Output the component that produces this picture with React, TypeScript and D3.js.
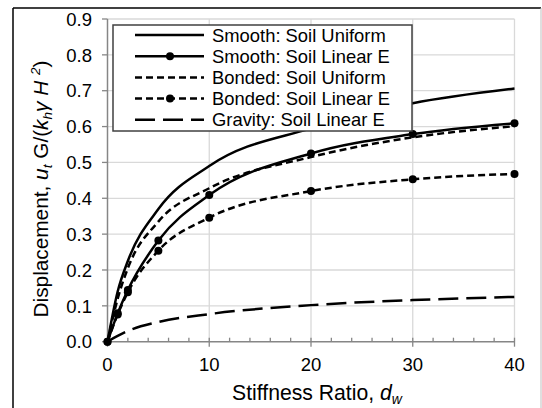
import React from "react";
import * as d3 from "d3";

const stiffness = [0, 1, 2, 5, 10, 20, 30, 40];
const smoothUniform = [0, 0.14, 0.225, 0.37, 0.49, 0.595, 0.665, 0.706];
const smoothLinearE = [0, 0.079, 0.144, 0.282, 0.409, 0.525, 0.579, 0.609];
const bondedUniform = [0, 0.12, 0.205, 0.335, 0.428, 0.515, 0.57, 0.601];
const bondedLinearE = [0, 0.076, 0.138, 0.254, 0.346, 0.42, 0.453, 0.468];
const gravityLinearE = [0, 0.016, 0.03, 0.055, 0.077, 0.102, 0.116, 0.125];
const xTicks = [0, 10, 20, 30, 40];
const xMinorTicks = [2, 4, 6, 8, 12, 14, 16, 18, 22, 24, 26, 28, 32, 34, 36, 38];
const yTicks = [0, 0.1, 0.2, 0.3, 0.4, 0.5, 0.6, 0.7, 0.8, 0.9];

const seriesNames = [
  "Smooth: Soil Uniform",
  "Smooth: Soil Linear E",
  "Bonded: Soil Uniform",
  "Bonded: Soil Linear E",
  "Gravity: Soil Linear E",
];

const FONT = "'Liberation Sans', Arial, sans-serif";

export default function App() {
  const x = d3.scaleLinear().domain([0, 40]).range([107.5, 514.5]);
  const y = d3.scaleLinear().domain([0, 0.9]).range([341.7, 19]);

  const series = [
    { name: seriesNames[0], values: smoothUniform, dash: "none", markers: false },
    { name: seriesNames[1], values: smoothLinearE, dash: "none", markers: true },
    { name: seriesNames[2], values: bondedUniform, dash: "7,4", markers: false },
    { name: seriesNames[3], values: bondedLinearE, dash: "7,4", markers: true },
    { name: seriesNames[4], values: gravityLinearE, dash: "20,8", markers: false },
  ];

  const line = d3
    .line<[number, number]>()
    .x((d) => x(d[0]))
    .y((d) => y(d[1]))
    .curve(d3.curveMonotoneX);

  const legendX = 113;
  const legendY = 25;
  const rowY = (i: number) => 35 + i * 21.2;

  return (
    <svg
      width={542}
      height={408}
      style={{ position: "absolute", left: 0, top: 0, background: "#fff" }}
      fontFamily={FONT}
    >
      {/* chart frame */}
      <line x1={13} y1={8} x2={13} y2={408} stroke="#000" strokeWidth={1.5} />
      <line x1={13} y1={8} x2={541} y2={8} stroke="#000" strokeWidth={1.5} />
      <line x1={541} y1={8} x2={541} y2={408} stroke="#bfbfbf" strokeWidth={1} />

      {/* gridlines */}
      {yTicks.slice(1).map((t) => (
        <line key={"gy" + t} x1={x(0)} x2={x(40)} y1={y(t)} y2={y(t)} stroke="#d9d9d9" strokeWidth={1.3} />
      ))}
      {xTicks.slice(1).map((t) => (
        <line key={"gx" + t} x1={x(t)} x2={x(t)} y1={y(0)} y2={y(0.9)} stroke="#d9d9d9" strokeWidth={1.3} />
      ))}

      {/* axes */}
      <line x1={x(0)} x2={x(0)} y1={y(0)} y2={y(0.9)} stroke="#868686" strokeWidth={1.5} />
      <line x1={x(0)} x2={x(40)} y1={y(0)} y2={y(0)} stroke="#868686" strokeWidth={1.5} />
      {yTicks.map((t) => (
        <line key={"ty" + t} x1={x(0) - 5.5} x2={x(0)} y1={y(t)} y2={y(t)} stroke="#868686" strokeWidth={1.3} />
      ))}
      {xTicks.map((t) => (
        <line key={"tx" + t} x1={x(t)} x2={x(t)} y1={y(0) - 4} y2={y(0) + 5} stroke="#868686" strokeWidth={1.3} />
      ))}
      {xMinorTicks.map((t) => (
        <line key={"tm" + t} x1={x(t)} x2={x(t)} y1={y(0) - 4} y2={y(0)} stroke="#868686" strokeWidth={1.3} />
      ))}

      {/* tick labels */}
      {yTicks.map((t) => (
        <text key={"ly" + t} x={92} y={y(t)} dy="0.36em" textAnchor="end" fontSize={18.5} fill="#000">
          {d3.format(".1f")(t)}
        </text>
      ))}
      {xTicks.map((t) => (
        <text key={"lx" + t} x={x(t)} y={370.5} textAnchor="middle" fontSize={18.5} fill="#000">
          {t}
        </text>
      ))}

      {/* axis titles */}
      <text x={317} y={399.5} textAnchor="middle" fontSize={21.2} fill="#000">
        Stiffness Ratio,{" "}
        <tspan fontStyle="italic">d</tspan>
        <tspan fontStyle="italic" fontSize={14} dy={4}>w</tspan>
      </text>
      <text
        transform={`translate(47.5, 189) rotate(-90)`}
        textAnchor="middle"
        fontSize={20.8}
        fill="#000"
      >
        Displacement,{" "}
        <tspan fontStyle="italic">u</tspan>
        <tspan fontStyle="italic" fontSize={13.5} dy={4}>t</tspan>
        <tspan dy={-4}> G/(</tspan>
        <tspan fontStyle="italic">k</tspan>
        <tspan fontStyle="italic" fontSize={13.5} dy={4}>h</tspan>
        <tspan fontStyle="italic" dy={-4}>γ H </tspan>
        <tspan fontStyle="italic" fontSize={13.5} dy={-8}>2</tspan>
        <tspan dy={8}>)</tspan>
      </text>

      {/* series */}
      {series.map((s) => {
        const pts = stiffness.map((xv, i) => [xv, s.values[i]] as [number, number]);
        return (
          <g key={s.name}>
            <path d={line(pts) || ""} fill="none" stroke="#000" strokeWidth={2.5} strokeDasharray={s.dash} />
            {s.markers &&
              pts.map((p, i) => <circle key={i} cx={x(p[0])} cy={y(p[1])} r={4} fill="#000" />)}
          </g>
        );
      })}

      {/* legend */}
      <rect x={legendX} y={legendY} width={299} height={106} fill="#fff" stroke="#404040" strokeWidth={1.5} />
      {series.map((s, i) => (
        <g key={"lg" + s.name}>
          <line x1={135} x2={204} y1={rowY(i)} y2={rowY(i)} stroke="#000" strokeWidth={2.5} strokeDasharray={s.dash} />
          {s.markers && <circle cx={170} cy={rowY(i)} r={4} fill="#000" />}
          <text x={212} y={rowY(i)} dy="0.36em" fontSize={18.4} fill="#000">
            {s.name}
          </text>
        </g>
      ))}
    </svg>
  );
}
